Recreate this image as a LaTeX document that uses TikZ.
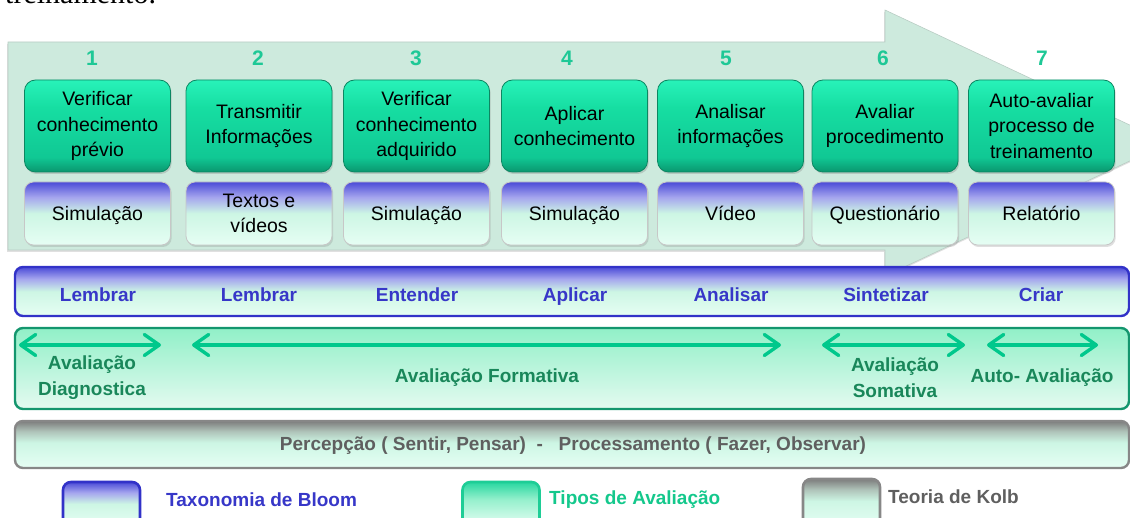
\documentclass[tikz,border=0pt]{standalone}
\usepackage{fontspec}
\setmainfont{Liberation Sans}
\newfontfamily\serifface{Liberation Serif}
\usetikzlibrary{arrows.meta,shadows}

\definecolor{arrowbg}{RGB}{205,234,221}
\definecolor{arrowedge}{RGB}{185,205,196}
\definecolor{numgreen}{RGB}{30,200,150}
\definecolor{gTop}{RGB}{40,242,185}
\definecolor{gMidB}{RGB}{22,222,162}
\definecolor{gMid}{RGB}{16,200,148}
\definecolor{gBot}{RGB}{10,150,110}
\definecolor{gEdge}{RGB}{12,135,98}
\definecolor{bTop}{RGB}{75,75,215}
\definecolor{bLav}{RGB}{165,165,238}
\definecolor{bMid}{RGB}{205,246,228}
\definecolor{bBot}{RGB}{230,254,244}
\definecolor{tealLine}{RGB}{0,200,140}
\definecolor{barBlue}{RGB}{50,50,200}
\definecolor{barGreen}{RGB}{20,150,110}
\definecolor{gbTop}{RGB}{145,240,200}
\definecolor{gbBot}{RGB}{228,250,240}
\definecolor{kTop}{RGB}{125,125,125}
\definecolor{kUp}{RGB}{175,195,185}
\definecolor{kEdge}{RGB}{135,135,135}
\definecolor{tlTop}{RGB}{40,215,160}
\definecolor{tlMid}{RGB}{150,240,205}
\definecolor{tlEdge}{RGB}{30,205,150}
\definecolor{txtBlue}{RGB}{55,55,200}
\definecolor{txtGreen}{RGB}{25,135,90}
\definecolor{txtTeal}{RGB}{20,200,140}
\definecolor{txtGray}{RGB}{95,95,95}

\pgfdeclareverticalshading{greenbox}{100bp}{color(0bp)=(gBot); color(25bp)=(gBot); color(33bp)=(gMid); color(60bp)=(gMidB); color(75bp)=(gTop); color(100bp)=(gTop)}
\pgfdeclareverticalshading{bluebox}{100bp}{color(0bp)=(bBot); color(25bp)=(bBot); color(50bp)=(bMid); color(63bp)=(bLav); color(75bp)=(bTop); color(100bp)=(bTop)}
\pgfdeclareverticalshading{greenbar}{100bp}{color(0bp)=(gbBot); color(25bp)=(gbBot); color(75bp)=(gbTop); color(100bp)=(gbTop)}
\pgfdeclareverticalshading{graybar}{100bp}{color(0bp)=(bBot); color(25bp)=(bBot); color(52bp)=(bMid); color(64bp)=(kUp); color(75bp)=(kTop); color(100bp)=(kTop)}
\pgfdeclareverticalshading{tealleg}{100bp}{color(0bp)=(bBot); color(25bp)=(bBot); color(55bp)=(tlMid); color(75bp)=(tlTop); color(100bp)=(tlTop)}

\begin{document}
\begin{tikzpicture}[x=1pt,y=-1pt,
  gbox/.style={rounded corners=11pt, draw=gEdge, line width=0.8pt, shading=greenbox,
    minimum width=146pt, minimum height=92pt, align=center, inner sep=0pt,
    font=\fontsize{19.5}{25.5}\selectfont,
    drop shadow={shadow xshift=1.2pt, shadow yshift=-2pt, opacity=0.3}},
  bbox/.style={rounded corners=9pt, draw=black!22, line width=0.8pt, shading=bluebox,
    minimum width=146pt, minimum height=63pt, inner sep=0pt,
    font=\fontsize{19.5}{25.5}\selectfont, text height=15.5pt, text depth=2pt,
    drop shadow={shadow xshift=1.2pt, shadow yshift=-2pt, opacity=0.25}},
  bboxtwo/.style={bbox, text height=, text depth=, align=center},
  numlbl/.style={text=numgreen, font=\fontsize{21}{24}\selectfont\bfseries, inner sep=0pt},
  bigbar/.style={rounded corners=8pt, line width=2.4pt, minimum width=1114pt, inner sep=0pt},
  bloomlbl/.style={text=txtBlue, font=\fontsize{19}{24}\selectfont\bfseries, inner sep=0pt, anchor=base},
  avlbl/.style={text=txtGreen, font=\fontsize{19}{26}\selectfont\bfseries, inner sep=0pt, align=center},
  avarrow/.style={draw=tealLine, line width=3.4pt, line cap=round,
    arrows={Straight Barb[round,length=15pt,width=21pt]-Straight Barb[round,length=15pt,width=21pt]}},
  legbox/.style={rounded corners=8pt, line width=2.6pt, minimum width=77pt, minimum height=44pt, inner sep=0pt},
  legtxt/.style={font=\fontsize{19}{24}\selectfont\bfseries, inner sep=0pt, anchor=west}]

\useasboundingbox (0,0) rectangle (1130,518);
\clip (0,0) rectangle (1130,518);

% cropped caption text above
\node[anchor=base west, inner sep=0pt, font=\fontsize{30}{34}\serifface] (cap) at (5,4) {treinamento.};

% big background arrow
\fill[black!12] (7,44) -- (884,44) -- (884,12) -- (1167,145) -- (884,278) -- (884,252) -- (7,252) -- cycle;
\fill[arrowbg, draw=arrowedge, line width=0.6pt] (8,42) -- (885,42) -- (885,10) -- (1168,143) -- (885,276) -- (885,250) -- (8,250) -- cycle;

% step numbers
\node[numlbl] (n1) at (92,58) {1};
\node[numlbl] (n2) at (258,58) {2};
\node[numlbl] (n3) at (416,58) {3};
\node[numlbl] (n4) at (567,58) {4};
\node[numlbl] (n5) at (726,58) {5};
\node[numlbl] (n6) at (883,58) {6};
\node[numlbl] (n7) at (1042,58) {7};

% green activity boxes
\node[gbox] (t1) at (97.5,126) {Verificar\\conhecimento\\prévio};
\node[gbox] (t2) at (259,126) {Transmitir\\Informações};
\node[gbox] (t3) at (416.5,126) {Verificar\\conhecimento\\adquirido};
\node[gbox] (t4) at (574.5,126) {Aplicar\\conhecimento};
\node[gbox] (t5) at (730.5,126) {Analisar\\informações};
\node[gbox] (t6) at (885,126) {Avaliar\\procedimento};
\node[gbox] (t7) at (1041.5,126) {Auto-avaliar\\processo de\\treinamento};

% blue resource boxes
\node[bbox] (r1) at (97.5,213.5) {Simulação};
\node[bboxtwo] (r2) at (259,213.5) {Textos e\\vídeos};
\node[bbox] (r3) at (416.5,213.5) {Simulação};
\node[bbox] (r4) at (574.5,213.5) {Simulação};
\node[bbox] (r5) at (730.5,213.5) {Vídeo};
\node[bbox] (r6) at (885,213.5) {Questionário};
\node[bbox] (r7) at (1041.5,213.5) {Relatório};

% Bloom bar
\node[bigbar, draw=barBlue, shading=bluebox, minimum height=49pt] (bloom) at (572,291.5) {};
\node[bloomlbl] (b1) at (98,302) {Lembrar};
\node[bloomlbl] (b2) at (259,302) {Lembrar};
\node[bloomlbl] (b3) at (417,302) {Entender};
\node[bloomlbl] (b4) at (575,302) {Aplicar};
\node[bloomlbl] (b5) at (731,302) {Analisar};
\node[bloomlbl] (b6) at (886,302) {Sintetizar};
\node[bloomlbl] (b7) at (1041,302) {Criar};

% evaluation bar
\node[bigbar, draw=barGreen, shading=greenbar, minimum height=81pt] (aval) at (572,368.5) {};
\coordinate (a1w) at (19,345); \coordinate (a1e) at (161,345);
\coordinate (a2w) at (192,345); \coordinate (a2e) at (781,345);
\coordinate (a3w) at (822,345); \coordinate (a3e) at (965,345);
\coordinate (a4w) at (987,345); \coordinate (a4e) at (1098,345);
\draw[avarrow] (a1w) -- (a1e);
\draw[avarrow] (a2w) -- (a2e);
\draw[avarrow] (a3w) -- (a3e);
\draw[avarrow] (a4w) -- (a4e);
\node[avlbl] (v1) at (92,378) {Avaliação\\Diagnostica};
\node[avlbl] (v2) at (487,378) {Avaliação Formativa};
\node[avlbl] (v3) at (895,378) {Avaliação\\Somativa};
\node[avlbl] (v4) at (1042,378) {Auto- Avaliação};

% Kolb bar
\node[bigbar, draw=kEdge, shading=graybar, minimum height=47pt] (kolb) at (572,444.5) {};
\node[text=txtGray, font=\fontsize{19}{24}\selectfont\bfseries, inner sep=0pt] (kt) at (573,446) {Percepção ( Sentir, Pensar)\ \ -\ \ \ Processamento ( Fazer, Observar)};

% legend
\node[legbox, draw=barBlue, shading=bluebox] (lg1) at (101.5,504) {};
\node[legtxt, text=txtBlue] (lt1) at (166,500) {Taxonomia de Bloom};
\node[legbox, draw=tlEdge, shading=tealleg] (lg2) at (501,504) {};
\node[legtxt, text=txtTeal] (lt2) at (549,500) {Tipos de Avaliação};
\node[legbox, draw=kEdge, shading=graybar, minimum height=48pt] (lg3) at (841.5,503) {};
\node[legtxt, text=txtGray] (lt3) at (888,497) {Teoria de Kolb};
\end{tikzpicture}
\end{document}
